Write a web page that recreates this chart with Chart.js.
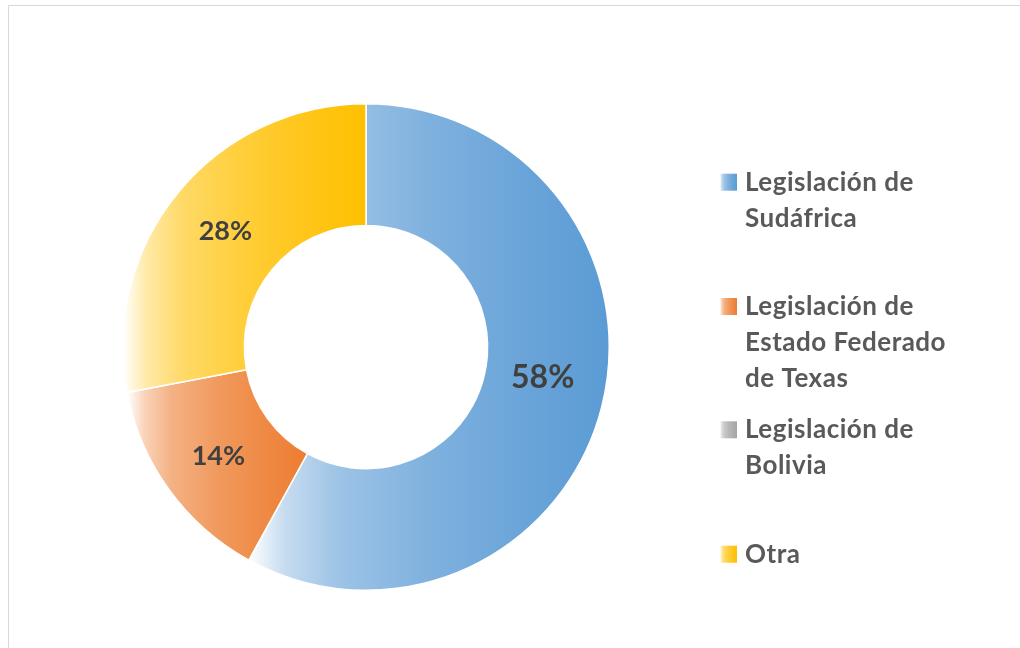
<!DOCTYPE html>
<html>
<head>
<meta charset="utf-8">
<script src="https://cdn.jsdelivr.net/npm/chart.js@4"></script>
<style>
  html, body { margin: 0; padding: 0; background: #ffffff; }
  #wrap { position: relative; width: 1020px; height: 648px; overflow: hidden; }
  #frame { position: absolute; left: 8px; top: 5px; width: 1100px; height: 700px;
           border-left: 1.5px solid #d9d9d9; border-top: 1.5px solid #d9d9d9; }
  #c { position: absolute; left: 0; top: 0; }
</style>
</head>
<body>
<div id="wrap">
  <div id="frame"></div>
  <canvas id="c" width="1020" height="648"></canvas>
</div>
<script>
// ---- data ----
const categories = [
  ["Legislación de", "Sudáfrica"],
  ["Legislación de", "Estado Federado", "de Texas"],
  ["Legislación de", "Bolivia"],
  ["Otra"]
];
const values = [58, 14, 0, 28];
const labelsText = ["58%", "14%", "", "28%"];

// ---- styles ----
const baseColors = [[91,155,213],[237,125,49],[165,165,165],[255,192,0]];
const labelFontSizes = [32, 27, 27, 27];
const labelDy = [-15, 2, 0, 1];
const legendBaselines = [[190.7, 226.7], [315, 350.5, 386.5], [438.3, 474], [562.7]];
const FONT = "Lato, 'Open Sans', sans-serif";
const BW = 1.5;
const CUT = 0.5;
const rampStops = [[0,0],[0.1,0.35],[0.25,0.6],[0.5,0.78],[0.75,0.9],[1,1]];

function rgba(c, a) { return `rgba(${c[0]},${c[1]},${c[2]},${a})`; }
function mixWhite(c, a) {
  return `rgb(${Math.round(255 + (c[0]-255)*a)},${Math.round(255 + (c[1]-255)*a)},${Math.round(255 + (c[2]-255)*a)})`;
}
function makeGrad(ctx2d, x0, x1, c) {
  const g = ctx2d.createLinearGradient(x0, 0, x1, 0);
  rampStops.forEach(s => g.addColorStop(s[0], mixWhite(c, s[1])));
  return g;
}

function sliceFill(context) {
  const i = context.dataIndex;
  const c = baseColors[i];
  const chart = context.chart;
  const area = chart.chartArea;
  if (!area || context.type !== 'data') return rgba(c, 1);
  const data = context.dataset.data;
  const total = data.reduce((a, b) => a + b, 0);
  let before = 0;
  for (let k = 0; k < i; k++) before += data[k];
  if (!data[i]) return rgba(c, 1);
  const cx = (area.left + area.right) / 2;
  const outer = (Math.min(area.right - area.left, area.bottom - area.top) - BW) / 2;
  const inner = outer * CUT;
  const a0 = -Math.PI / 2 + before / total * 2 * Math.PI;
  const a1 = -Math.PI / 2 + (before + data[i]) / total * 2 * Math.PI;
  let minX = Infinity, maxX = -Infinity;
  const N = 200;
  for (let s = 0; s <= N; s++) {
    const a = a0 + (a1 - a0) * s / N;
    for (const r of [outer, inner]) {
      const x = cx + r * Math.cos(a);
      minX = Math.min(minX, x); maxX = Math.max(maxX, x);
    }
  }
  return makeGrad(chart.ctx, minX, maxX, c);
}

const labelPlugin = {
  id: 'sliceLabels',
  afterDatasetsDraw(chart) {
    const ctx = chart.ctx;
    const meta = chart.getDatasetMeta(0);
    meta.data.forEach((arc, i) => {
      if (!values[i]) return;
      const p = arc.getProps(['x','y','startAngle','endAngle','innerRadius','outerRadius'], true);
      const a = (p.startAngle + p.endAngle) / 2;
      const r = (p.innerRadius + p.outerRadius) / 2;
      const x = p.x + r * Math.cos(a);
      const y = p.y + r * Math.sin(a) + labelDy[i];
      ctx.save();
      ctx.font = `bold ${labelFontSizes[i]}px ${FONT}`;
      ctx.fillStyle = '#404040';
      ctx.textAlign = 'center';
      ctx.textBaseline = 'middle';
      ctx.fillText(labelsText[i], x, y);
      ctx.restore();
    });
  }
};

const legendPlugin = {
  id: 'sideLegend',
  afterDraw(chart) {
    const ctx = chart.ctx;
    ctx.save();
    categories.forEach((lines, i) => {
      const bls = legendBaselines[i];
      const sq = 17, sx = 720, sy = bls[0] - sq;
      ctx.fillStyle = makeGrad(ctx, sx, sx + sq, baseColors[i]);
      ctx.fillRect(sx, sy, sq, sq);
      ctx.font = `bold 26px ${FONT}`;
      if ('letterSpacing' in ctx) ctx.letterSpacing = '0.5px';
      ctx.fillStyle = '#595959';
      ctx.textAlign = 'left';
      ctx.textBaseline = 'alphabetic';
      lines.forEach((t, j) => ctx.fillText(t, 745, bls[j]));
      if ('letterSpacing' in ctx) ctx.letterSpacing = '0px';
    });
    ctx.restore();
  }
};

new Chart(document.getElementById('c'), {
  type: 'doughnut',
  data: {
    labels: categories.map(l => l.join(' ')),
    datasets: [{
      data: values,
      backgroundColor: sliceFill,
      borderColor: '#ffffff',
      borderWidth: BW,
      hoverOffset: 0
    }]
  },
  options: {
    responsive: false,
    animation: false,
    cutout: '50%',
    layout: { padding: { left: 122, right: 410, top: 103, bottom: 57 } },
    plugins: { legend: { display: false }, tooltip: { enabled: false } }
  },
  plugins: [labelPlugin, legendPlugin]
});
</script>
</body>
</html>
